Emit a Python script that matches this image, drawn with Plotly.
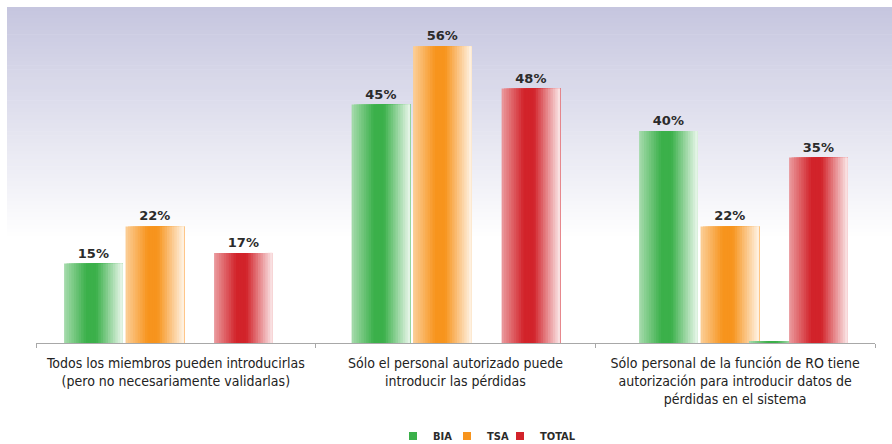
import plotly.graph_objects as go

# --- data -------------------------------------------------------------
categorias = [
    "Todos los miembros pueden introducirlas<br>(pero no necesariamente validarlas)",
    "Sólo el personal autorizado puede<br>introducir las pérdidas",
    "Sólo personal de la función de RO tiene<br>autorización para introducir datos de<br>pérdidas en el sistema",
]
bia = [15, 45, 40]
tsa = [22, 56, 22]
total = [17, 48, 35]
otros = [0, 0, 0.3]

# --- styling ----------------------------------------------------------
VERDE = (59, 176, 74)
NARANJA = (247, 148, 29)
ROJO = (210, 35, 42)

N_STRIPS = 24          # vertical strips used to shade each bar horizontally
BAR_W = 0.2035         # bar width in category units
FONT_LABEL = "DejaVu Sans Condensed, Liberation Sans Narrow, Roboto Condensed, Roboto, sans-serif"
FONT_VALUE = "DejaVu Sans, sans-serif"


def mix(rgb, k):
    """Blend a colour with white; k=1 keeps the colour, k=0 is white."""
    r, g, b = (round(255 - (255 - c) * k) for c in rgb)
    return f"rgb({r},{g},{b})"


def intensity(u):
    """Horizontal shading profile across a bar (u from 0 at left to 1 at right)."""
    if u < 0.38:
        return 0.45 + 0.55 * (u / 0.38)
    if u < 0.55:
        return 1.0
    return 1.0 - 0.9 * ((u - 0.55) / 0.45)


def shaded_bars(values, rgb, left, width, label=True):
    """Layered bar traces: each strip starts further right and overlays the previous."""
    traces = []
    for k in range(N_STRIPS):
        u = (k + 0.5) / N_STRIPS
        t = go.Bar(
            x=categorias,
            y=values,
            offset=left + k * width / N_STRIPS,
            width=width * (N_STRIPS - k) / N_STRIPS,
            marker=dict(color=mix(rgb, intensity(u)), line=dict(width=0)),
            showlegend=False,
            hoverinfo="skip",
            xaxis="x",
            yaxis="y",
        )
        if k == 0 and label:
            t.update(
                texttemplate="%{y}%",
                textposition="outside",
                constraintext="none",
                cliponaxis=False,
                textfont=dict(family=FONT_VALUE, size=13, color="#2b2b2b", weight="bold"),
            )
        traces.append(t)
    return traces


fig = go.Figure()

for tr in shaded_bars(bia, VERDE, -0.3467, BAR_W):
    fig.add_trace(tr)
for tr in shaded_bars(tsa, NARANJA, -0.133, BAR_W):
    fig.add_trace(tr)
for tr in shaded_bars(otros, VERDE, 0.0354, 0.174, label=False):
    fig.add_trace(tr)
for tr in shaded_bars(total, ROJO, 0.175, BAR_W):
    fig.add_trace(tr)

# category axis carrying the line, boundary ticks and labels
fig.add_trace(go.Scatter(
    x=categorias, y=[0, 0, 0], mode="markers",
    marker=dict(opacity=0), showlegend=False, hoverinfo="skip",
    xaxis="x2", yaxis="y",
))

# page geometry
W, H = 892, 444
ML, MR, MT, MB = 36, 17, 7, 101
pw, ph = W - ML - MR, H - MT - MB

# legend entries, one small legend box each so they sit close together
legend_items = (("BIA", VERDE, "legend"), ("TSA", NARANJA, "legend2"), ("TOTAL", ROJO, "legend3"))
legend_left_px = (393, 447, 500)
for (name, rgb, lg) in legend_items:
    fig.add_trace(go.Scatter(
        x=[None], y=[None], mode="markers", name=name, legend=lg,
        marker=dict(symbol="square", size=8, color=mix(rgb, 1.0)),
        xaxis="x", yaxis="y",
    ))

legend_common = dict(
    orientation="h", y=(H - MB - 436) / ph, yanchor="middle", xanchor="left",
    font=dict(family=FONT_LABEL, size=11, color="#2b2b2b", weight="bold"),
    bgcolor="rgba(0,0,0,0)", itemwidth=30,
)
legends = {}
for (name, rgb, lg), px in zip(legend_items, legend_left_px):
    legends[lg] = dict(legend_common, x=(px - ML) / pw)

# plot-area background: vertical fade from lavender to white
top_rgb = (198, 198, 223)
y_top, y_white = 7, 240
n_bands = 60
x0 = (7 - ML) / pw
x1 = (W - ML) / pw
shapes = []
for i in range(n_bands):
    a = y_top + (y_white - y_top) * i / n_bands
    b = y_top + (y_white - y_top) * (i + 1) / n_bands + 0.6
    f = (i + 0.5) / n_bands
    col = tuple(round(c + (255 - c) * f) for c in top_rgb)
    shapes.append(dict(
        type="rect", xref="paper", yref="paper",
        x0=x0, x1=x1, y0=(H - MB - b) / ph, y1=(H - MB - a) / ph,
        fillcolor=f"rgb{col}", line=dict(width=0), layer="below",
    ))

fig.update_layout(
    width=W, height=H, autosize=False,
    margin=dict(l=ML, r=MR, t=MT, b=MB, autoexpand=False),
    paper_bgcolor="white", plot_bgcolor="rgba(0,0,0,0)",
    barmode="overlay",
    shapes=shapes,
    xaxis=dict(
        type="category", categoryorder="array", categoryarray=categorias,
        range=[-0.4445, 2.4737], visible=False, fixedrange=True,
    ),
    xaxis2=dict(
        type="category", categoryorder="array", categoryarray=categorias,
        overlaying="x", anchor="y", side="bottom",
        range=[-0.5, 2.5], showline=True, linecolor="#a8a8a8", linewidth=1,
        ticks="outside", tickson="boundaries", ticklen=4, tickcolor="#a8a8a8",
        ticklabelstandoff=7,
        showgrid=False, zeroline=False,
        tickfont=dict(family=FONT_LABEL, size=14, color="#222222"),
    ),
    yaxis=dict(range=[0, 63.4], visible=False, fixedrange=True),
    **legends,
)

fig.write_html("out.html")
